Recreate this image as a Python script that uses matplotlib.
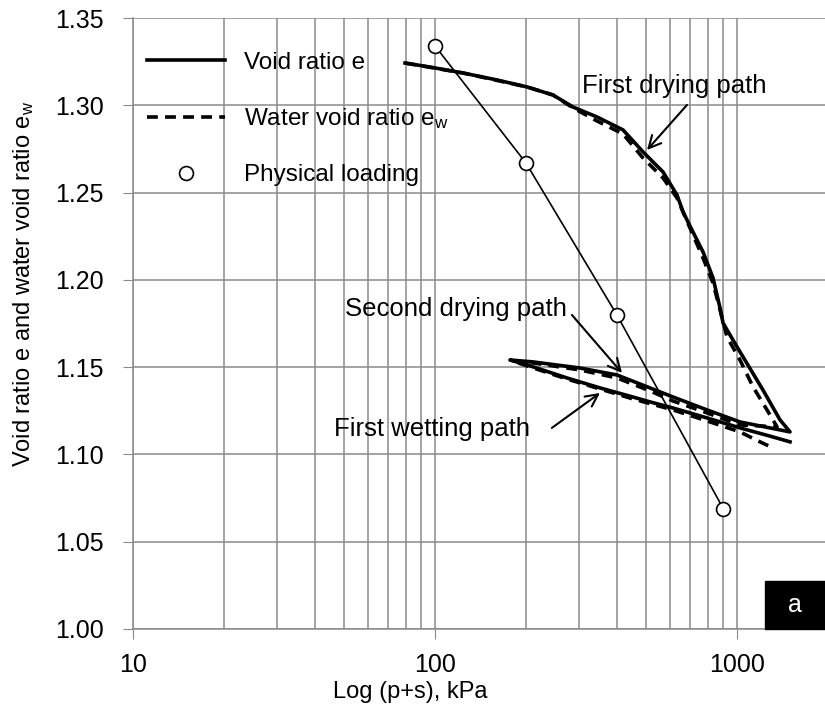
import matplotlib
matplotlib.use("Agg")
import matplotlib.pyplot as plt
from matplotlib.patches import Rectangle
from matplotlib.lines import Line2D

plt.rcParams['font.family'] = ['Liberation Sans', 'DejaVu Sans']
plt.rcParams['mathtext.default'] = 'regular'

# void ratio e: first drying, first wetting, second drying (one continuous path)
e_p = [79.6, 96.3, 123.8, 160.5, 201.7, 245.9, 286.4, 344.0, 419.3, 488.4, 568.9, 633.0,
       662.6, 715.1, 771.8, 832.8, 878.6, 898.9, 1000, 1219, 1388, 1498,
       1023, 795.6, 614, 515, 400.6, 302, 211.1, 177.1,
       201.7, 273.6, 351.9, 452, 515, 614, 795.6, 1023, 1316, 1498]
e_val = [1.3242, 1.3219, 1.3185, 1.3145, 1.3105, 1.3059, 1.2990, 1.2933, 1.2859, 1.2733, 1.2618, 1.2486,
         1.2389, 1.2274, 1.2160, 1.2011, 1.1839, 1.1753, 1.1616, 1.1369, 1.1198, 1.1129,
         1.1186, 1.1255, 1.1329, 1.1381, 1.1455, 1.1495, 1.1530, 1.1541,
         1.1513, 1.1438, 1.1381, 1.1329, 1.1301, 1.1266, 1.1209, 1.1152, 1.1100, 1.1072]

# water void ratio ew
ew_p = [79.6, 123.8, 201.7, 245.9, 286.4, 344.0, 419.3, 488.4, 568.9, 633.0, 698.9, 771.8,
        832.8, 878.6, 926.7, 1023, 1130, 1257, 1357,
        1023, 795.6, 614, 515, 400.6, 302, 211.1, 179.9,
        201.7, 273.6, 351.9, 452, 614, 795.6, 1023, 1192, 1316]
ew_val = [1.3242, 1.3185, 1.3105, 1.3059, 1.2985, 1.2910, 1.2836, 1.2698, 1.2584, 1.2469, 1.2297, 1.2125,
          1.1982, 1.1828, 1.1673, 1.1541, 1.1387, 1.1255, 1.1158,
          1.1169, 1.1238, 1.1306, 1.1364, 1.1438, 1.1484, 1.1524, 1.1536,
          1.1507, 1.1432, 1.1375, 1.1318, 1.1255, 1.1192, 1.1129, 1.1072, 1.1037]

# physical loading
load_p = [100, 200, 400, 900]
load_e = [1.334, 1.267, 1.180, 1.069]

y_ticks = [1.00, 1.05, 1.10, 1.15, 1.20, 1.25, 1.30, 1.35]
x_ticks = [10, 100, 1000]

fig = plt.figure(figsize=(8.25, 7.11), dpi=100)
ax = fig.add_axes([133/825, 1-629/711, 692/825, 611/711])

ax.plot(e_p, e_val, color='black', lw=2.6, solid_joinstyle='round', zorder=4)
ax.plot(ew_p, ew_val, color='black', lw=2.6, ls=(0, (3, 2)), zorder=4)
ax.plot(load_p, load_e, color='black', lw=1.2, zorder=5)
ax.plot(load_p, load_e, 'o', mfc='white', mec='black', ms=10, mew=1.2, zorder=6)

ax.set_xscale('log')
ax.set_xlim(10, 1956)
ax.set_ylim(1.0, 1.35)
ax.set_xticks(x_ticks)
ax.set_xticklabels([str(t) for t in x_ticks])
ax.set_yticks(y_ticks)
ax.set_yticklabels(['%.2f' % t for t in y_ticks])
ax.grid(True, which='both', color='#8a8a8a', lw=1.1)
ax.set_axisbelow(True)
for s in ['top', 'right']:
    ax.spines[s].set_visible(False)
for s in ['left', 'bottom']:
    ax.spines[s].set_color('#8a8a8a')
    ax.spines[s].set_linewidth(1.1)
ax.tick_params(which='major', direction='out', length=7, color='#8a8a8a', labelsize=18, pad=10)
ax.tick_params(which='minor', length=0)
ax.tick_params(axis='y', pad=14)
ax.minorticks_on()
ax.yaxis.set_minor_locator(matplotlib.ticker.NullLocator())

ax.set_xlabel('Log (p+s), kPa', fontsize=17)
ax.xaxis.set_label_coords(0.40, -0.085)
ax.set_ylabel('Void ratio e and water void ratio e$_w$', fontsize=17)
ax.yaxis.set_label_coords(-0.140, 0.565)

# annotations
arrow = dict(arrowstyle='->', color='black', lw=1.5, mutation_scale=22, shrinkA=0, shrinkB=0)
ax.annotate('', xy=(503.6, 1.2744), xytext=(683, 1.3002), arrowprops=arrow)
ax.text(306.8, 1.311, 'First drying path', fontsize=18.5, ha='left', va='center')
ax.annotate('', xy=(416, 1.1467), xytext=(284, 1.1799), arrowprops=arrow)
ax.text(273, 1.1833, 'Second drying path', fontsize=18.5, ha='right', va='center')
ax.annotate('', xy=(351.7, 1.1352), xytext=(243.8, 1.1152), arrowprops=arrow)
ax.text(206, 1.1146, 'First wetting path', fontsize=18.5, ha='right', va='center')

handles = [Line2D([], [], color='black', lw=2.6),
           Line2D([], [], color='black', lw=2.6, ls=(0, (3, 2))),
           Line2D([], [], ls='none', marker='o', mfc='white', mec='black', ms=10, mew=1.2)]
labels = ['Void ratio e', 'Water void ratio e$_w$', 'Physical loading']
ax.legend(handles, labels, loc='upper left', bbox_to_anchor=(0.02, 0.945), frameon=False,
          fontsize=17.5, handlelength=3.2, handletextpad=0.8, labelspacing=1.35,
          borderpad=0, borderaxespad=0)

fig.patches.append(Rectangle((765/825, 1-629/711), 60/825, 48/711, transform=fig.transFigure,
                             color='black', zorder=10))
fig.text(795/825, 1-605/711, 'a', color='white', fontsize=18, ha='center', va='center', zorder=11)

fig.savefig('out.png', dpi=100)
